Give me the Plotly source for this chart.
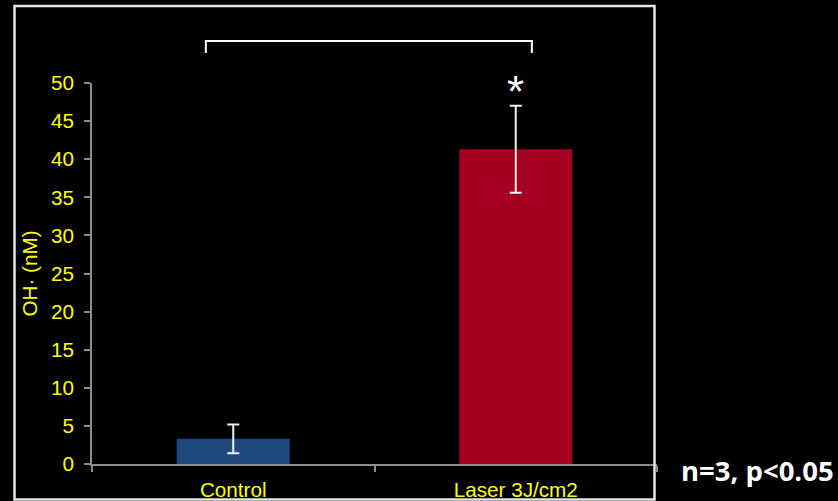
import plotly.graph_objects as go

# Hydroxyl radical concentration per treatment group (mean ± SD, n=3)
categories = ["Control", "Laser 3J/cm2"]
oh_means = [3.3, 41.3]
oh_errors = [1.9, 5.7]
bar_colors = ["#1F497D", "#A50021"]
y_ticks = [0, 5, 10, 15, 20, 25, 30, 35, 40, 45, 50]

FONT = "Arial, Liberation Sans, sans-serif"
YELLOW = "#FFFF00"
AXIS_GRAY = "#8C8C8C"
LABEL_SIZE = 20.7

fig = go.Figure(
    go.Bar(
        x=categories,
        y=oh_means,
        marker=dict(color=bar_colors, line=dict(width=0)),
        error_y=dict(type="data", array=oh_errors, visible=True,
                     color="#F2F2F2", thickness=2, width=6),
        showlegend=False,
    )
)

fig.update_layout(
    width=838, height=501,
    margin=dict(l=92, r=181, t=83, b=37),
    paper_bgcolor="black", plot_bgcolor="black",
    bargap=0.6,
    font=dict(family=FONT, color=YELLOW, size=LABEL_SIZE),
)

fig.update_xaxes(
    type="category", range=[-0.5, 1.5], automargin=False,
    showline=True, linecolor=AXIS_GRAY, linewidth=1.5,
    ticks="outside", tickson="boundaries", ticklen=6,
    tickcolor=AXIS_GRAY, tickwidth=1.5,
    tickfont=dict(family=FONT, color=YELLOW, size=LABEL_SIZE),
    ticklabelstandoff=6,
    showgrid=False, zeroline=False,
)
fig.update_yaxes(
    range=[0, 50], tickvals=y_ticks, automargin=False,
    showline=True, linecolor=AXIS_GRAY, linewidth=1.5,
    ticks="outside", ticklen=6, tickcolor=AXIS_GRAY, tickwidth=1.5,
    tickfont=dict(family=FONT, color=YELLOW, size=LABEL_SIZE),
    ticklabelstandoff=6,
    showgrid=False, zeroline=False,
    title=dict(text="OH· (nM)", font=dict(family=FONT, color=YELLOW, size=LABEL_SIZE),
               standoff=8),
)

# Outer frame around the chart panel
fig.add_shape(type="rect", xref="paper", yref="paper",
              x0=(14.5 - 92) / 565, x1=(654.5 - 92) / 565,
              y0=(463.5 - 499) / 380.5, y1=(463.5 - 6) / 380.5,
              line=dict(color="#E6E6E6", width=2.5))

# Significance bracket between the two groups
bracket_y = (463.5 - 41) / 380.5
bracket_drop = (463.5 - 53) / 380.5
fig.add_shape(type="path", xref="x", yref="paper",
              path=f"M -0.097,{bracket_drop} L -0.097,{bracket_y} L 1.057,{bracket_y} L 1.057,{bracket_drop}",
              line=dict(color="white", width=2))

fig.add_annotation(x=1, y=oh_means[1] + oh_errors[1], xref="x", yref="y",
                   text="*", showarrow=False, yanchor="middle", yshift=14,
                   font=dict(family=FONT, color="white", size=44))

fig.add_annotation(x=1.0, y=0.0, xref="paper", yref="paper",
                   xanchor="left", yanchor="middle", xshift=22, yshift=-6,
                   text="<b>n=3, p<0.05</b>", showarrow=False,
                   font=dict(family="Open Sans, sans-serif", color="white", size=27.5))

fig.write_html("out.html")
